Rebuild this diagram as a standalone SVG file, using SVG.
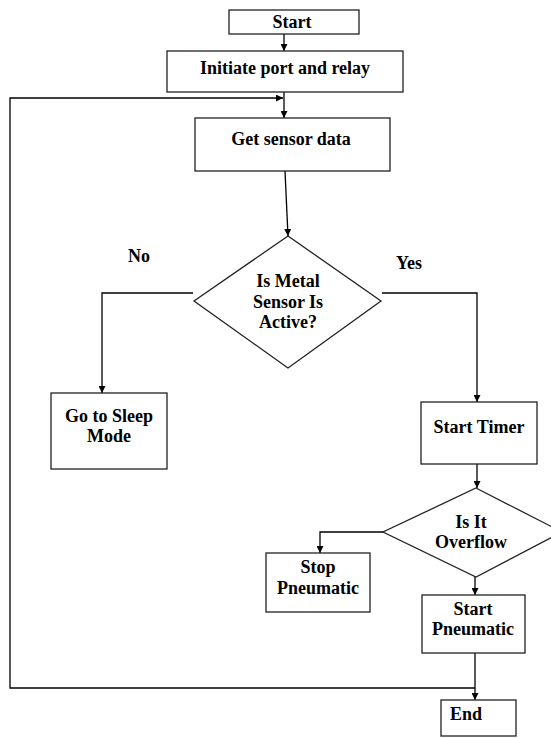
<svg xmlns="http://www.w3.org/2000/svg" width="551" height="738" viewBox="0 0 551 738">
<defs>
<marker id="ah" viewBox="0 0 10 10" refX="10" refY="5" markerWidth="7" markerHeight="7" markerUnits="userSpaceOnUse" orient="auto">
<path d="M0,0 L10,5 L0,10 z" fill="#000"/>
</marker>
<style>
.box{fill:#fff;stroke:#222;stroke-width:1.3}
.ln{fill:none;stroke:#000;stroke-width:1.3}
.ar{fill:none;stroke:#000;stroke-width:1.3;marker-end:url(#ah)}
text{font-family:"Liberation Serif","Times New Roman",serif;font-weight:bold;font-size:18px;fill:#000;text-anchor:middle}
</style>
</defs>
<rect width="551" height="738" fill="#fff"/>
<g id="connectors">
<line class="ar" x1="284" y1="34" x2="284" y2="51"/>
<line class="ar" x1="284" y1="92" x2="284" y2="118"/>
<polyline class="ar" points="475,688 10,688 10,98 283,98"/>
<line class="ar" x1="285" y1="171" x2="288" y2="236"/>
<polyline class="ar" points="193,293 102,293 102,393"/>
<polyline class="ar" points="382,293 477,293 477,402"/>
<line class="ar" x1="477" y1="464" x2="477" y2="488"/>
<polyline class="ar" points="400,532 320,532 320,553"/>
<line class="ar" x1="475" y1="577" x2="475" y2="595"/>
<line class="ar" x1="475" y1="653" x2="475" y2="700"/>
</g>
<g id="start">
<rect class="box" x="229" y="10" width="130" height="24"/>
<text x="292" y="28">Start</text>
</g>
<g id="init">
<rect class="box" x="167" y="51" width="236" height="41"/>
<text x="285" y="74">Initiate port and relay</text>
</g>
<g id="sensor">
<rect class="box" x="195" y="118" width="195" height="53"/>
<text x="291" y="145">Get sensor data</text>
</g>
<g id="metal">
<polygon class="box" points="288,236 381,301 288,368 194,301"/>
<text x="288" y="287">Is Metal</text>
<text x="288" y="308">Sensor Is</text>
<text x="288" y="328">Active?</text>
</g>
<g id="labels">
<text x="139" y="262">No</text>
<text x="409" y="269">Yes</text>
</g>
<g id="sleep">
<rect class="box" x="51" y="393" width="116" height="76"/>
<text x="109" y="422">Go to Sleep</text>
<text x="109" y="442">Mode</text>
</g>
<g id="timer">
<rect class="box" x="421" y="402" width="116" height="62"/>
<text x="479" y="433">Start Timer</text>
</g>
<g id="overflow">
<polygon class="box" points="476,488 562,532 476,577 383,532"/>
<text x="471" y="528">Is It</text>
<text x="471" y="548">Overflow</text>
</g>
<g id="stop">
<rect class="box" x="266" y="553" width="104" height="59"/>
<text x="318" y="573">Stop</text>
<text x="318" y="594">Pneumatic</text>
</g>
<g id="startpn">
<rect class="box" x="422" y="595" width="103" height="58"/>
<text x="473" y="615">Start</text>
<text x="473" y="635">Pneumatic</text>
</g>
<g id="end">
<rect class="box" x="441" y="700" width="75" height="36"/>
<text x="450" y="720" style="text-anchor:start">End</text>
</g>
</svg>
